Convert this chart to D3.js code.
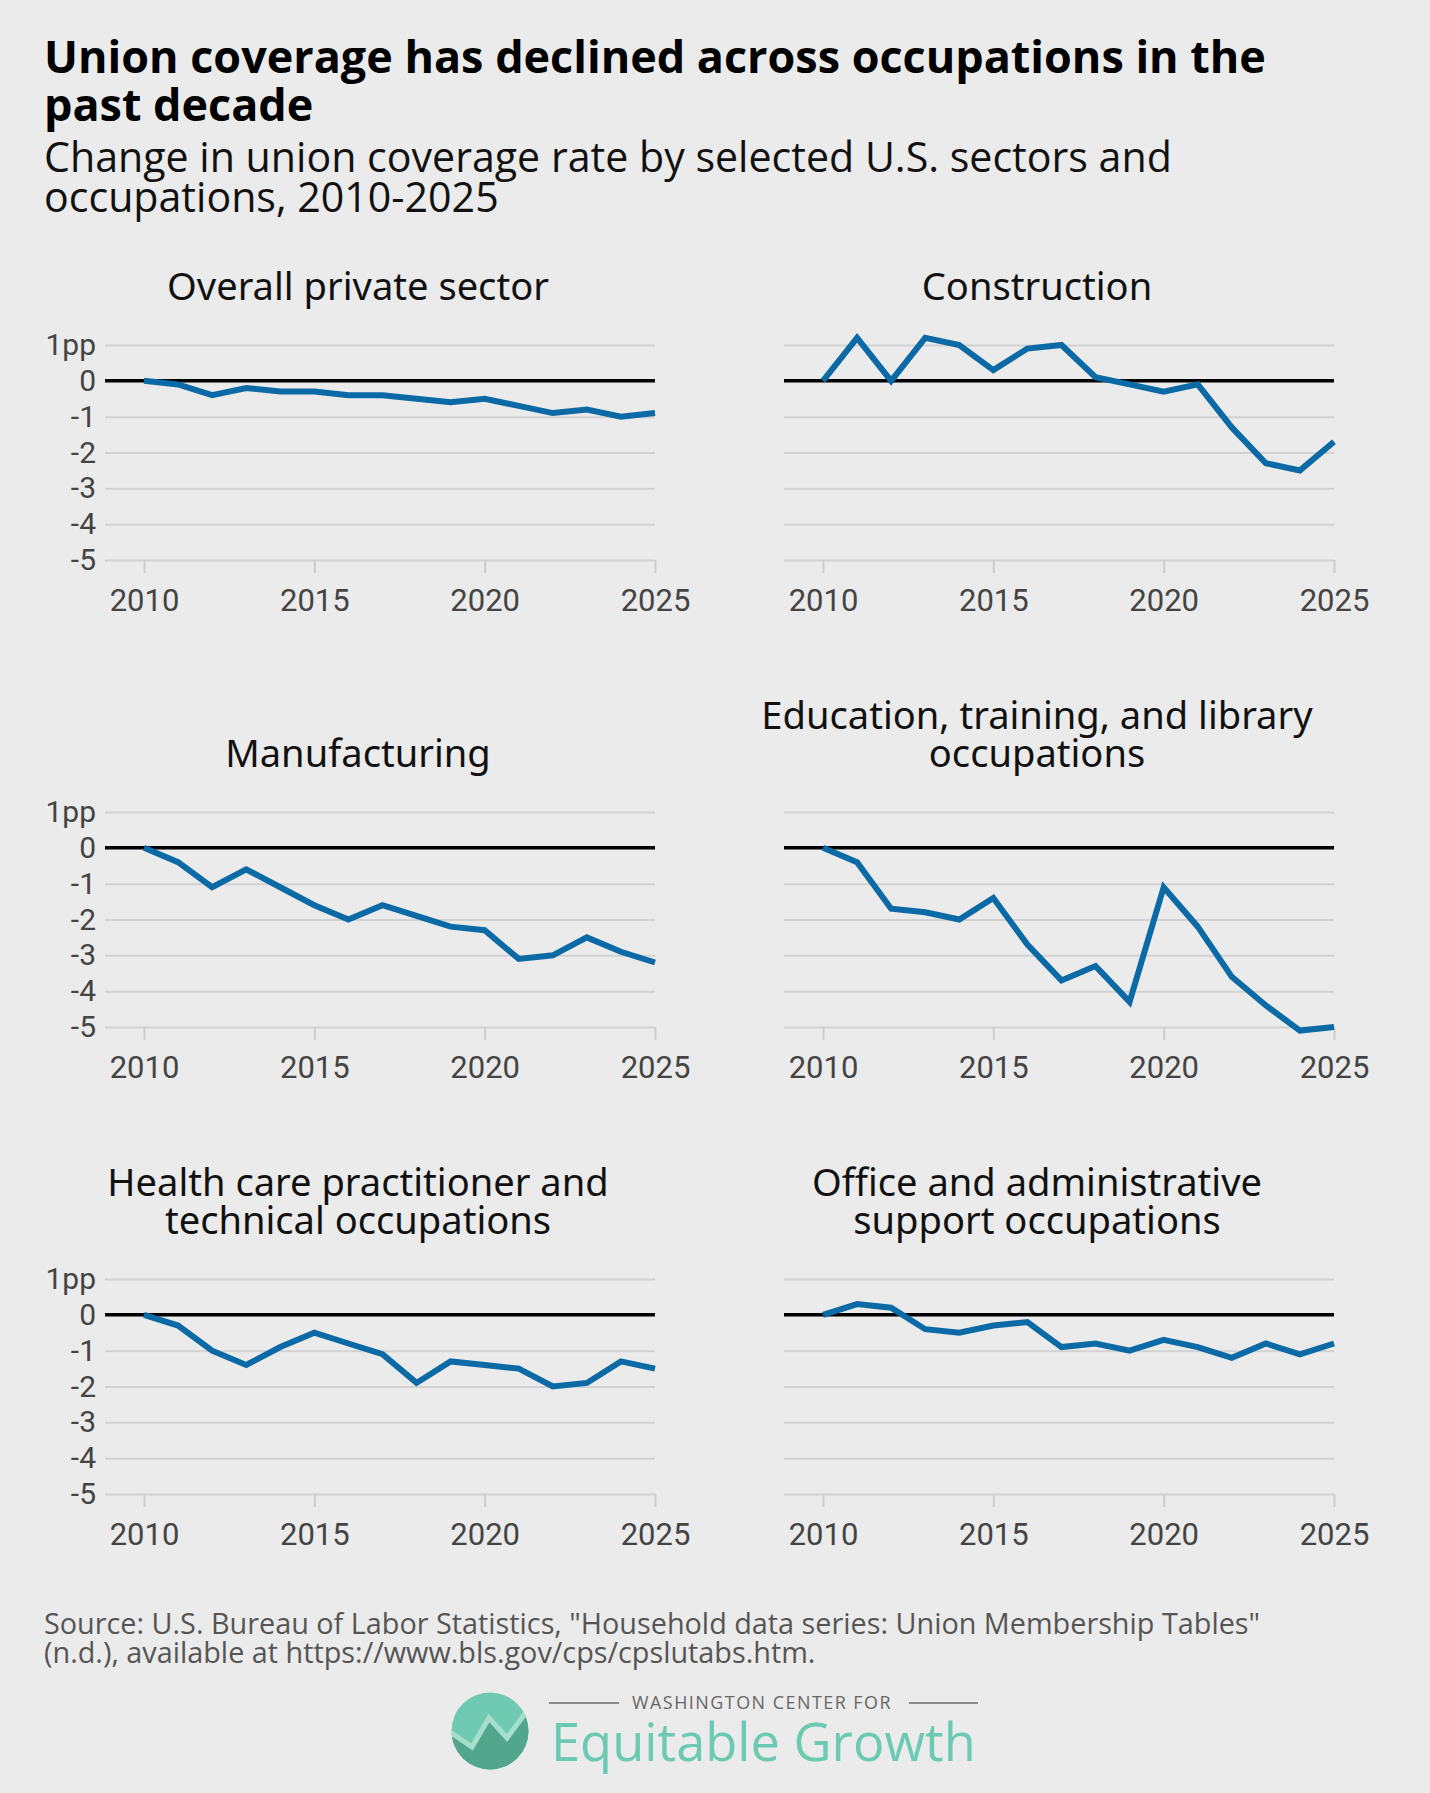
<!DOCTYPE html>
<html>
<head>
<meta charset="utf-8">
<script src="https://cdn.jsdelivr.net/npm/d3@7"></script>
<style>
    body { margin: 0; background: #ebebeb; }
    svg { display: block; }
</style>
</head>
<body>
<svg id="chart" width="1430" height="1793"></svg>
<script>
// Data (percentage points vs 2010)
const years = [2010, 2011, 2012, 2013, 2014, 2015, 2016, 2017, 2018, 2019, 2020, 2021, 2022, 2023, 2024, 2025];
const xTickValues = [2010, 2015, 2020, 2025];
const yTickValues = [1, 0, -1, -2, -3, -4, -5];

const overallPrivate = [0, -0.1, -0.4, -0.2, -0.3, -0.3, -0.4, -0.4, -0.5, -0.6, -0.5, -0.7, -0.9, -0.8, -1.0, -0.9];
const construction = [0, 1.2, 0, 1.2, 1.0, 0.3, 0.9, 1.0, 0.1, -0.1, -0.3, -0.1, -1.3, -2.3, -2.5, -1.7];
const manufacturing = [0, -0.4, -1.1, -0.6, -1.1, -1.6, -2.0, -1.6, -1.9, -2.2, -2.3, -3.1, -3.0, -2.5, -2.9, -3.2];
const education = [0, -0.4, -1.7, -1.8, -2.0, -1.4, -2.7, -3.7, -3.3, -4.3, -1.1, -2.2, -3.6, -4.4, -5.1, -5.0];
const healthCare = [0, -0.3, -1.0, -1.4, -0.9, -0.5, -0.8, -1.1, -1.9, -1.3, -1.4, -1.5, -2.0, -1.9, -1.3, -1.5];
const officeAdmin = [0, 0.3, 0.2, -0.4, -0.5, -0.3, -0.2, -0.9, -0.8, -1.0, -0.7, -0.9, -1.2, -0.8, -1.1, -0.8];

const panelTitles = [
    ['Overall private sector'],
    ['Construction'],
    ['Manufacturing'],
    ['Education, training, and library', 'occupations'],
    ['Health care practitioner and', 'technical occupations'],
    ['Office and administrative', 'support occupations'],
];
const panelSeries = [overallPrivate, construction, manufacturing, education, healthCare, officeAdmin];

const titleLines = ['Union coverage has declined across occupations in the', 'past decade'];
const subtitleLines = ['Change in union coverage rate by selected U.S. sectors and', 'occupations, 2010-2025'];
const sourceLines = [
    'Source: U.S. Bureau of Labor Statistics, "Household data series: Union Membership Tables"',
    '(n.d.), available at https://www.bls.gov/cps/cpslutabs.htm.',
];

const svg = d3.select('#chart');
const lineColor = '#0b6aa6';
const tickFont = 'Roboto, "Liberation Sans", sans-serif';
const textFont = '"Open Sans", "Noto Sans", sans-serif';
const titleFont = '"Noto Sans", "Open Sans", sans-serif';

// scale font size so that the first line spans the wanted width
function fitFont(textSel, firstNode, width, base) {
    const measured = firstNode.getComputedTextLength();
    const size = base * width / measured;
    textSel.style('font-size', `${size}px`);
    return size;
}

function multiline(x, y, lines, step, font, weight, base, color) {
    const t = svg.append('text')
        .style('font-family', font)
        .style('font-weight', weight)
        .style('font-size', `${base}px`)
        .attr('fill', color);
    t.selectAll('tspan')
        .data(lines)
        .join('tspan')
        .attr('x', x)
        .attr('y', (d, i) => y + i * step)
        .text((d) => d);
    return t;
}

// Header
const title = multiline(44, 73, titleLines, 48, textFont, 700, 44, '#000');
fitFont(title, title.select('tspan').node(), 1222, 44);

const subtitle = multiline(44, 172, subtitleLines, 40, textFont, 400, 36, '#111');
fitFont(subtitle, subtitle.select('tspan').node(), 1128, 36);

// Small multiples
const gridLeft = 105;
const plotLeft = 144;
const plotRight = 655;
const colStep = 679;
const rowTop = 345;
const rowBottom = 560;
const rowStep = 467;
let panelTitleSize = 35;

panelSeries.forEach((values, index) => {
    const col = index % 2;
    const row = Math.floor(index / 2);
    const dx = col * colStep;
    const dy = row * rowStep;

    const xScale = d3.scaleLinear()
        .domain([2010, 2025])
        .range([plotLeft + dx, plotRight + dx]);

    const yScale = d3.scaleLinear()
        .domain([-5, 1])
        .range([rowBottom + dy, rowTop + dy]);

    const g = svg.append('g');

    // Panel title
    const lines = panelTitles[index];
    const titleX = (gridLeft + plotRight) / 2 - 22 + dx;
    const pt = g.append('text')
        .attr('text-anchor', 'middle')
        .style('font-family', titleFont)
        .style('font-size', `${panelTitleSize}px`)
        .attr('fill', '#111');
    pt.selectAll('tspan')
        .data(lines)
        .join('tspan')
        .attr('x', titleX)
        .attr('y', (d, i) => rowTop + dy - 45 - (lines.length - 1 - i) * 38)
        .text((d) => d);
    if (index === 0) {
        panelTitleSize = fitFont(pt, pt.select('tspan').node(), 382, panelTitleSize);
    }

    // y axis with gridlines
    const yAxis = d3.axisLeft(yScale)
        .tickValues(yTickValues)
        .tickSizeInner(-(plotRight - gridLeft))
        .tickSizeOuter(0)
        .tickPadding(9)
        .tickFormat((v) => (col === 0 ? (v === 1 ? '1pp' : String(v)) : ''));

    const yG = g.append('g')
        .attr('transform', `translate(${gridLeft + dx},0)`)
        .call(yAxis);
    yG.select('.domain').remove();
    yG.selectAll('.tick line')
        .attr('stroke', '#d2d2d2')
        .attr('stroke-width', 2);
    yG.selectAll('.tick text')
        .style('font-family', tickFont)
        .style('font-size', '30px')
        .attr('fill', '#444');

    // x axis
    const xAxis = d3.axisBottom(xScale)
        .tickValues(xTickValues)
        .tickSizeInner(13)
        .tickSizeOuter(0)
        .tickPadding(16)
        .tickFormat(d3.format('d'));

    const xG = g.append('g')
        .attr('transform', `translate(0,${rowBottom + dy})`)
        .call(xAxis);
    xG.select('.domain').remove();
    xG.selectAll('.tick line')
        .attr('stroke', '#cdcdcd')
        .attr('stroke-width', 2);
    xG.selectAll('.tick text')
        .style('font-family', tickFont)
        .style('font-size', '31px')
        .attr('fill', '#444');

    // zero line
    g.append('line')
        .attr('x1', gridLeft + dx)
        .attr('x2', plotRight + dx)
        .attr('y1', yScale(0))
        .attr('y2', yScale(0))
        .attr('stroke', '#000')
        .attr('stroke-width', 3.5);

    // series line
    const line = d3.line()
        .x((d, i) => xScale(years[i]))
        .y((d) => yScale(d));

    g.append('path')
        .datum(values)
        .attr('d', line)
        .attr('fill', 'none')
        .attr('stroke', lineColor)
        .attr('stroke-width', 6)
        .attr('stroke-linejoin', 'miter');
});

// Source note
const source = multiline(44, 1634, sourceLines, 29, textFont, 400, 25, '#555');
fitFont(source, source.select('tspan').node(), 1217, 25);

// Logo
const logo = svg.append('g');
logo.append('clipPath')
    .attr('id', 'logo-clip')
    .append('circle')
    .attr('cx', 490)
    .attr('cy', 1731)
    .attr('r', 38.5);
const lg = logo.append('g').attr('clip-path', 'url(#logo-clip)');
lg.append('rect')
    .attr('x', 450).attr('y', 1690).attr('width', 84).attr('height', 90)
    .attr('fill', '#6fcab1');
lg.append('path')
    .attr('d', 'M450,1732 L472,1747 L489,1718 L507,1738 L530,1707 L530,1780 L450,1780 Z')
    .attr('fill', '#52a68b');
lg.append('path')
    .attr('d', 'M450,1732 L472,1747 L489,1718 L507,1738 L530,1707')
    .attr('fill', 'none')
    .attr('stroke', '#a6e0cd')
    .attr('stroke-width', 5);

logo.append('line')
    .attr('x1', 549).attr('x2', 619).attr('y1', 1703).attr('y2', 1703)
    .attr('stroke', '#8a8a8a').attr('stroke-width', 2);
logo.append('line')
    .attr('x1', 909).attr('x2', 978).attr('y1', 1703).attr('y2', 1703)
    .attr('stroke', '#8a8a8a').attr('stroke-width', 2);
const wc = logo.append('text')
    .attr('x', 632)
    .attr('y', 1709)
    .style('font-family', textFont)
    .style('font-size', '16px')
    .style('letter-spacing', '1.5px')
    .attr('fill', '#666')
    .text('WASHINGTON CENTER FOR');
fitFont(wc, wc.node(), 264, 16);
const eg = logo.append('text')
    .attr('x', 551)
    .attr('y', 1761)
    .style('font-family', textFont)
    .style('font-size', '44px')
    .attr('fill', '#6ccab0')
    .text('Equitable Growth');
fitFont(eg, eg.node(), 425, 44);
</script>
</body>
</html>
